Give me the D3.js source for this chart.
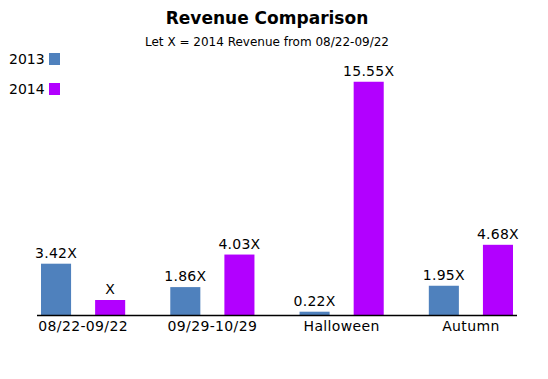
<!DOCTYPE html>
<html>
<head>
<meta charset="utf-8">
<script src="https://cdn.jsdelivr.net/npm/d3@7"></script>
<style>
  html, body { margin: 0; padding: 0; background: #fff; }
  svg { display: block; font-family: "DejaVu Sans", Verdana, sans-serif; }
</style>
</head>
<body>
<svg id="chart" width="548" height="379"></svg>
<script>
const categories = ["08/22-09/22", "09/29-10/29", "Halloween", "Autumn"];
const seriesNames = ["2013", "2014"];
const values2013 = [3.42, 1.86, 0.22, 1.95];
const values2014 = [1, 4.03, 15.55, 4.68];
const valueLabels2013 = ["3.42X", "1.86X", "0.22X", "1.95X"];
const valueLabels2014 = ["X", "4.03X", "15.55X", "4.68X"];
const colors = ["#4f81bd", "#b200ff"];

const svg = d3.select("#chart");
const left = 37, right = 517, baseline = 315;

const series = [values2013, values2014];
const labels = [valueLabels2013, valueLabels2014];

const x0 = d3.scaleBand().domain(categories).range([left, right])
  .paddingInner(45 / 129).paddingOuter(4 / 129);
const x1 = d3.scaleBand().domain(seriesNames).range([0, x0.bandwidth()])
  .paddingInner(24 / 54).paddingOuter(0);
const y = d3.scaleLinear().domain([0, 16]).range([baseline, 75]);
const color = d3.scaleOrdinal().domain(seriesNames).range(colors);

// Title
svg.append("text").attr("x", 267).attr("y", 24).attr("text-anchor", "middle")
  .attr("font-size", 17).attr("font-weight", "bold").attr("fill", "#000")
  .text("Revenue Comparison");
svg.append("text").attr("x", 267).attr("y", 46).attr("text-anchor", "middle")
  .attr("font-size", 12).attr("fill", "#000")
  .text("Let X = 2014 Revenue from 08/22-09/22");

// Legend
const legend = svg.append("g");
seriesNames.forEach((s, i) => {
  const g = legend.append("g").attr("transform", `translate(0, ${i * 30})`);
  g.append("text").attr("x", 9).attr("y", 64).attr("font-size", 14).attr("fill", "#000").text(s);
  g.append("rect").attr("x", 49).attr("y", 53).attr("width", 11).attr("height", 12).attr("fill", color(s));
});

// Bars
const data = categories.map((c, ci) => ({
  cat: c,
  items: seriesNames.map((s, si) => ({ s, v: series[si][ci], label: labels[si][ci] }))
}));

const groups = svg.append("g").selectAll("g").data(data).join("g")
  .attr("transform", d => `translate(${x0(d.cat)},0)`);

groups.selectAll("rect").data(d => d.items).join("rect")
  .attr("x", d => x1(d.s))
  .attr("y", d => y(d.v))
  .attr("width", x1.bandwidth())
  .attr("height", d => baseline - y(d.v))
  .attr("fill", d => color(d.s));

groups.selectAll("text.val").data(d => d.items).join("text")
  .attr("class", "val")
  .attr("x", d => x1(d.s) + x1.bandwidth() / 2)
  .attr("y", d => y(d.v) - 6)
  .attr("text-anchor", "middle")
  .attr("font-size", 14)
  .attr("letter-spacing", 0.25)
  .attr("fill", "#000")
  .text(d => d.label);

// Axis
const axis = d3.axisBottom(x0).tickSize(0).tickPadding(6);
const ax = svg.append("g").attr("transform", `translate(0, ${baseline})`).call(axis);
ax.select(".domain").attr("stroke", "#000").attr("stroke-width", 1.5)
  .attr("d", `M${left},0.5H${right}`);
ax.selectAll("text").attr("font-size", 14).attr("font-family", "DejaVu Sans, Verdana, sans-serif")
  .attr("letter-spacing", 0.35).attr("fill", "#000");
</script>
</body>
</html>
